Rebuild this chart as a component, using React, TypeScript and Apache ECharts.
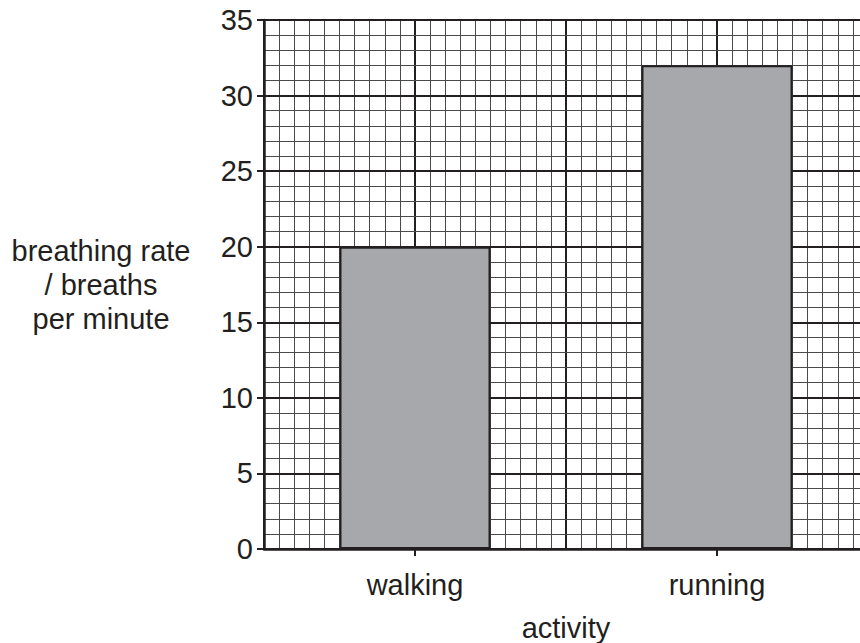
import React, { useEffect, useRef } from "react";
import * as echarts from "echarts";

const categories = ["walking", "running"];
const breathingRates = [20, 32];
const yTicks = { min: 0, max: 35, interval: 5 };

const INK = "#231f20";
const FONT = "'Liberation Sans', Arial, Helvetica, sans-serif";
const FS = 29;

export default function App() {
  const ref = useRef<HTMLDivElement>(null);
  useEffect(() => {
    if (!ref.current) return;
    const chart = echarts.init(ref.current, null, { renderer: "svg" });
    chart.setOption({
      animation: false,
      backgroundColor: "#ffffff",
      textStyle: { fontFamily: FONT },
      grid: {
        left: 264,
        top: 20,
        right: -8,
        bottom: 94,
        containLabel: false,
        outerBoundsMode: "none",
      },
      xAxis: [
        {
          type: "category",
          data: categories,
          position: "bottom",
          boundaryGap: true,
          name: "activity",
          nameLocation: "middle",
          nameGap: 64,
          nameTextStyle: { fontSize: FS, color: INK, fontFamily: FONT },
          axisLine: { show: true, lineStyle: { color: INK, width: 2.5 } },
          axisTick: { show: true, alignWithLabel: true, length: 7, lineStyle: { color: INK, width: 2 } },
          axisLabel: { fontSize: FS, color: INK, margin: 21, fontFamily: FONT },
          splitLine: { show: false },
          z: 5,
        },
        {
          type: "value",
          min: 0,
          max: 40,
          interval: 10,
          position: "bottom",
          axisLine: { show: false },
          axisTick: { show: false },
          axisLabel: { show: false },
          splitLine: { show: true, lineStyle: { color: INK, width: 2 } },
          minorTick: { show: false, splitNumber: 10 },
          minorSplitLine: { show: true, lineStyle: { color: "#4a4a4a", width: 1 } },
        },
      ],
      yAxis: {
        type: "value",
        min: yTicks.min,
        max: yTicks.max,
        interval: yTicks.interval,
        axisLine: { show: true, lineStyle: { color: INK, width: 2.5 } },
        axisTick: { show: true, length: 7, lineStyle: { color: INK, width: 2 } },
        axisLabel: { fontSize: FS, color: INK, margin: 11, fontFamily: FONT },
        splitLine: { show: true, lineStyle: { color: INK, width: 2 } },
        minorTick: { show: false, splitNumber: 5 },
        minorSplitLine: { show: true, lineStyle: { color: "#4a4a4a", width: 1 } },
        z: 5,
      },
      graphic: [
        {
          type: "text",
          x: 101,
          y: 285,
          style: {
            text: "breathing rate\n/ breaths\nper minute",
            align: "center",
            verticalAlign: "middle",
            fontSize: FS,
            lineHeight: 34,
            fill: INK,
            fontFamily: FONT,
          },
        },
      ],
      series: [
        {
          type: "bar",
          xAxisIndex: 0,
          data: breathingRates,
          barWidth: "50%",
          itemStyle: { color: "#a7a8ab", borderColor: INK, borderWidth: 2 },
          z: 10,
        },
      ],
    });
    return () => chart.dispose();
  }, []);
  return (
    <div
      ref={ref}
      style={{ position: "fixed", left: 0, top: 0, width: 860, height: 643 }}
    />
  );
}
